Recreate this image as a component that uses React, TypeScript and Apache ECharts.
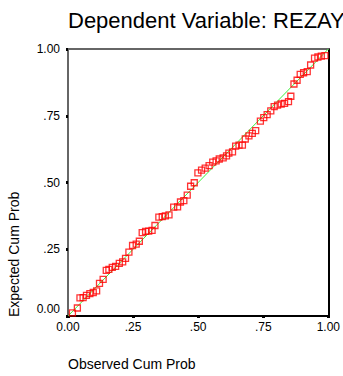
import React, { useEffect, useRef } from "react";
import * as echarts from "echarts";

const titleText = "Dependent Variable: REZAY";
const xAxisTitle = "Observed Cum Prob";
const yAxisTitle = "Expected Cum Prob";
const tickValues = [0, 0.25, 0.5, 0.75, 1];
const tickLabels = ["0.00", ".25", ".50", ".75", "1.00"];

const observed = [
  0.017, 0.036, 0.046, 0.058, 0.071, 0.084, 0.097, 0.110, 0.121, 0.135,
  0.147, 0.157, 0.170, 0.183, 0.197, 0.210, 0.221, 0.234, 0.248, 0.262,
  0.274, 0.285, 0.298, 0.310, 0.323, 0.334, 0.349, 0.362, 0.374, 0.388,
  0.406, 0.421, 0.432, 0.445, 0.458, 0.471, 0.485, 0.499, 0.513, 0.527,
  0.542, 0.556, 0.569, 0.581, 0.596, 0.609, 0.618, 0.632, 0.644, 0.657,
  0.670, 0.681, 0.695, 0.708, 0.721, 0.739, 0.752, 0.765, 0.779, 0.792,
  0.805, 0.819, 0.832, 0.847, 0.856, 0.868, 0.880, 0.892, 0.905, 0.919,
  0.932, 0.947, 0.960, 0.973, 0.987,
];
const expected = [
  0.012, 0.030, 0.068, 0.069, 0.077, 0.084, 0.088, 0.094, 0.122, 0.137,
  0.171, 0.175, 0.182, 0.186, 0.197, 0.203, 0.216, 0.239, 0.264, 0.269,
  0.280, 0.312, 0.317, 0.318, 0.321, 0.339, 0.370, 0.372, 0.375, 0.379,
  0.408, 0.409, 0.427, 0.432, 0.453, 0.486, 0.499, 0.536, 0.546, 0.554,
  0.563, 0.576, 0.581, 0.588, 0.592, 0.600, 0.610, 0.615, 0.636, 0.640,
  0.640, 0.663, 0.675, 0.684, 0.694, 0.730, 0.743, 0.754, 0.768, 0.784,
  0.790, 0.794, 0.796, 0.803, 0.823, 0.869, 0.883, 0.905, 0.911, 0.915,
  0.940, 0.966, 0.970, 0.973, 0.975,
];
const referenceLine = [
  [0, 0],
  [1, 1],
];

const FONT = "Liberation Sans, Arial, sans-serif";

function fmt(v: number): string {
  const idx = tickValues.findIndex((t) => Math.abs(t - v) < 1e-9);
  return idx >= 0 ? tickLabels[idx] : "";
}

export default function App() {
  const ref = useRef<HTMLDivElement>(null);
  useEffect(() => {
    if (!ref.current) return;
    const chart = echarts.init(ref.current, null, { renderer: "svg" });
    const points = observed.map((x, i) => [x, expected[i]]);
    chart.setOption({
      animation: false,
      backgroundColor: "#ffffff",
      grid: { left: 68, right: 13, top: 49, bottom: 60, containLabel: false },
      xAxis: [
        {
          type: "value",
          min: 0,
          max: 1,
          interval: 0.25,
          position: "bottom",
          axisLine: { show: true, onZero: false, lineStyle: { color: "#000", width: 2 } },
          axisTick: { show: true, length: 2, lineStyle: { color: "#000", width: 3 } },
          axisLabel: {
            margin: 5,
            fontSize: 12,
            color: "#000",
            fontFamily: FONT,
            formatter: (v: number) => fmt(v),
          },
          splitLine: { show: false },
        },
        {
          type: "value",
          min: 0,
          max: 1,
          interval: 0.25,
          position: "top",
          axisLine: { show: true, onZero: false, lineStyle: { color: "#666", width: 2 } },
          axisTick: { show: false },
          axisLabel: { show: false },
          splitLine: { show: false },
        },
      ],
      yAxis: [
        {
          type: "value",
          min: 0,
          max: 1,
          interval: 0.25,
          position: "left",
          axisLine: { show: true, onZero: false, lineStyle: { color: "#666", width: 2 } },
          axisTick: { show: true, length: 2, lineStyle: { color: "#000", width: 3 } },
          axisLabel: {
            margin: 8,
            fontSize: 12,
            color: "#000",
            fontFamily: FONT,
            formatter: (v: number) => (Math.abs(v) < 1e-9 ? "{lo|" + fmt(v) + "}" : fmt(v)),
            rich: {
              lo: { fontSize: 12, fontFamily: FONT, color: "#000", padding: [0, 0, 15, 0] },
            },
          },
          splitLine: { show: false },
        },
        {
          type: "value",
          min: 0,
          max: 1,
          interval: 0.25,
          position: "right",
          axisLine: { show: true, onZero: false, lineStyle: { color: "#000", width: 2 } },
          axisTick: { show: false },
          axisLabel: { show: false },
          splitLine: { show: false },
        },
      ],
      series: [
        {
          type: "line",
          data: referenceLine,
          symbol: "none",
          silent: true,
          z: 1,
          lineStyle: { color: "#3cf03c", width: 1 },
        },
        {
          type: "scatter",
          data: points,
          symbol: "rect",
          symbolSize: 6,
          z: 2,
          itemStyle: { color: "rgba(255,255,255,0)", borderColor: "#ff0000", borderWidth: 1.3 },
        },
      ],
      graphic: [
        {
          type: "text",
          x: 68,
          y: 20,
          style: {
            text: titleText,
            fontSize: 22,
            fontFamily: FONT,
            fill: "#000",
            align: "left",
            verticalAlign: "middle",
          },
        },
        {
          type: "text",
          x: 68,
          y: 364,
          style: {
            text: xAxisTitle,
            fontSize: 14,
            fontFamily: FONT,
            fill: "#000",
            align: "left",
            verticalAlign: "middle",
          },
        },
        {
          type: "text",
          x: 14,
          y: 317,
          rotation: Math.PI / 2,
          style: {
            text: yAxisTitle,
            fontSize: 14,
            fontFamily: FONT,
            fill: "#000",
            align: "left",
            verticalAlign: "middle",
          },
        },
      ],
    });
    return () => chart.dispose();
  }, []);
  return (
    <div
      ref={ref}
      style={{ position: "fixed", left: 0, top: 0, width: 343, height: 376 }}
    />
  );
}
